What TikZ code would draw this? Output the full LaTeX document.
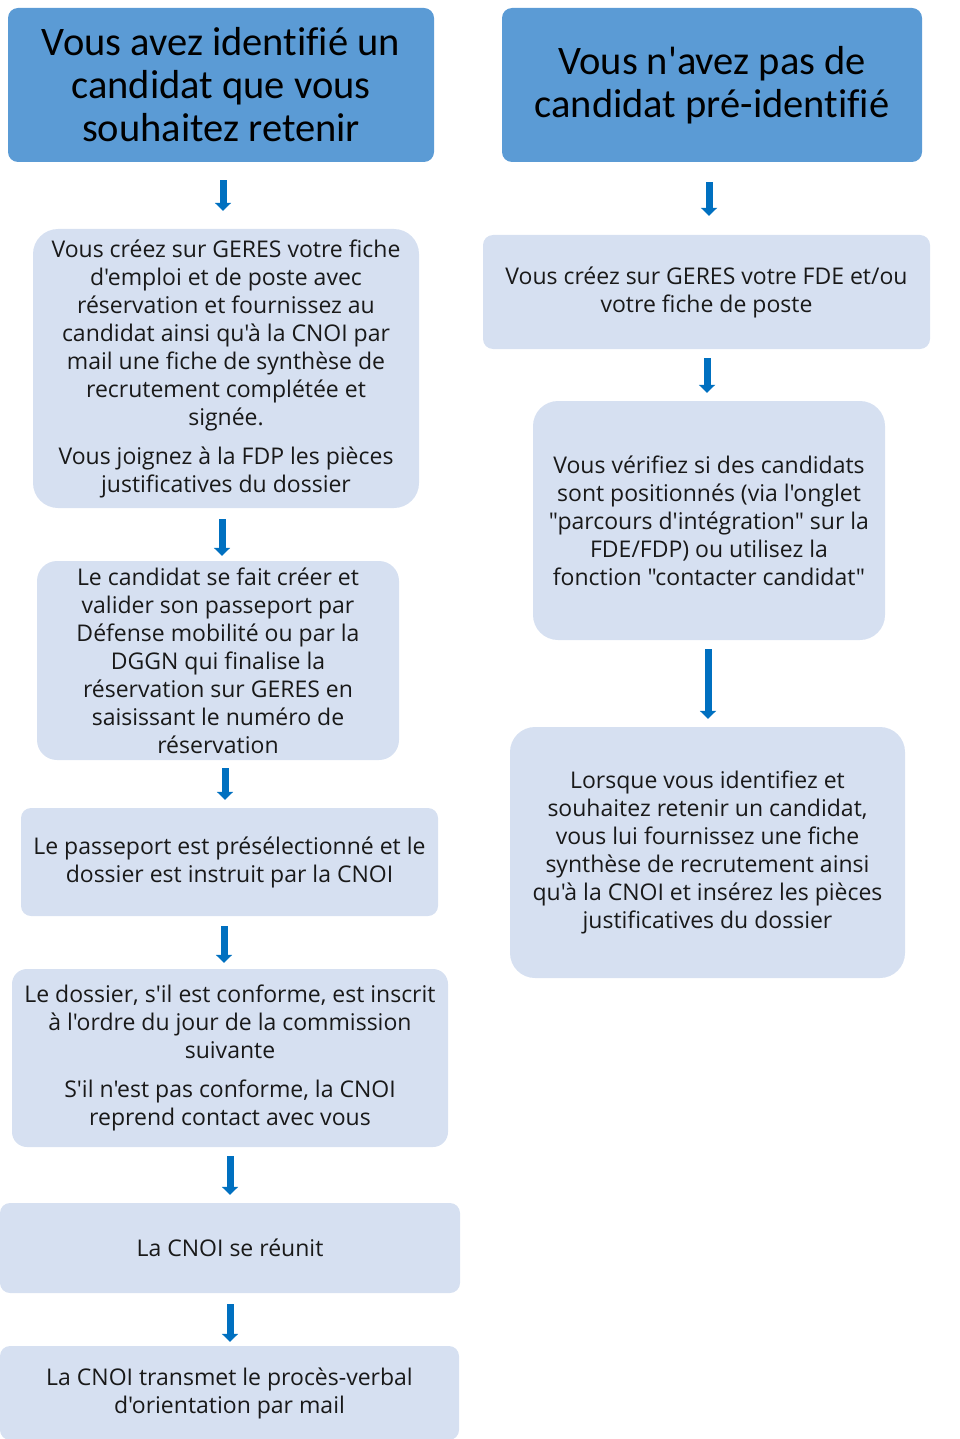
\documentclass[tikz,border=0pt]{standalone}
\usepackage{fontspec}
\newfontfamily\bodyfont{Open Sans}[Ligatures=NoCommon]
\newfontfamily\headfont{Carlito}[Ligatures=NoCommon]
\usetikzlibrary{arrows.meta}
\definecolor{headblue}{HTML}{5B9BD5}
\definecolor{lightbox}{HTML}{D6E0F1}
\definecolor{arrowblue}{HTML}{0070C0}
\newcommand\apo{\symbol{39}}
\newcommand\dqt{\symbol{34}}
\begin{document}
\begin{tikzpicture}[x=1pt,y=-1pt,
  head/.style={fill=headblue, draw=none, rounded corners=10pt, inner sep=0pt, align=center,
    font=\headfont\fontsize{40.5}{43}\selectfont, text=black},
  lbox/.style={fill=lightbox, draw=none, inner sep=0pt, align=center,
    font=\bodyfont\fontsize{23}{28}\selectfont, text=black!90},
  arr/.style={draw=arrowblue, line width=7pt, -{Triangle[width=16pt,length=8pt]}}]
\useasboundingbox (0,0) rectangle (960,1439);
% headers
\node[head, minimum width=426pt, minimum height=154pt] (h1) at (221,85) {Vous avez identifié un\\candidat que vous\\souhaitez retenir};
\node[head, minimum width=420pt, minimum height=154pt] (h2) at (712,85) {Vous n\apo avez pas de\\candidat pré-identifié};
% left column
\node[lbox, rounded corners=25pt, minimum width=386pt, minimum height=279pt] (l1) at (226,368.5)
 {Vous créez sur GERES votre fiche\\d\apo emploi et de poste avec\\réservation et fournissez au\\candidat ainsi qu\apo à la CNOI par\\mail une fiche de synthèse de\\recrutement complétée et\\signée.\\[11pt]Vous joignez à la FDP les pièces\\justificatives du dossier};
\node[lbox, rounded corners=20pt, minimum width=362pt, minimum height=199pt] (l2) at (218,660.5)
 {Le candidat se fait créer et\\valider son passeport par\\Défense mobilité ou par la\\DGGN qui finalise la\\réservation sur GERES en\\saisissant le numéro de\\réservation};
\node[lbox, rounded corners=10pt, minimum width=417pt, minimum height=108pt] (l3) at (229.5,862)
 {Le passeport est présélectionné et le\\dossier est instruit par la CNOI};
\node[lbox, rounded corners=15pt, minimum width=436pt, minimum height=178pt] (l4) at (230,1058)
 {Le dossier, s\apo il est conforme, est inscrit\\à l\apo ordre du jour de la commission\\suivante\\[11pt]S\apo il n\apo est pas conforme, la CNOI\\reprend contact avec vous};
\node[lbox, rounded corners=10pt, minimum width=460pt, minimum height=90pt] (l5) at (230,1248)
 {La CNOI se réunit};
\node[lbox, rounded corners=10pt, minimum width=459pt, minimum height=94pt] (l6) at (229.5,1393)
 {La CNOI transmet le procès-verbal\\d\apo orientation par mail};
% right column
\node[lbox, rounded corners=10pt, minimum width=447pt, minimum height=114pt] (r1) at (706.5,292)
 {Vous créez sur GERES votre FDE et/ou\\votre fiche de poste};
\node[lbox, rounded corners=25pt, minimum width=352pt, minimum height=239pt] (r2) at (709,520.5)
 {Vous vérifiez si des candidats\\sont positionnés (via l\apo onglet\\\dqt parcours d\apo intégration\dqt{} sur la\\FDE/FDP) ou utilisez la\\fonction \dqt contacter candidat\dqt};
\node[lbox, rounded corners=25pt, minimum width=395pt, minimum height=251pt] (r3) at (707.5,852.5)
 {Lorsque vous identifiez et\\souhaitez retenir un candidat,\\vous lui fournissez une fiche\\synthèse de recrutement ainsi\\qu\apo à la CNOI et insérez les pièces\\justificatives du dossier};
% arrows
\draw[arr, shorten <=18pt, shorten >=18pt] ([xshift=2pt]h1.south) -- ([xshift=2pt]h1.south |- l1.north);
\draw[arr, shorten <=11pt, shorten >=5pt] ([xshift=-4pt]l1.south) -- ([xshift=-4pt]l1.south |- l2.north);
\draw[arr, shorten <=8pt, shorten >=8pt] ([xshift=7pt]l2.south) -- ([xshift=7pt]l2.south |- l3.north);
\draw[arr, shorten <=10pt, shorten >=6pt] ([xshift=-5.5pt]l3.south) -- ([xshift=-5.5pt]l3.south |- l4.north);
\draw[arr, shorten <=9pt, shorten >=8pt] (l4.south) -- (l4.south |- l5.north);
\draw[arr, shorten <=11pt, shorten >=4pt] (l5.south) -- (l5.south |- l6.north);
\draw[arr, shorten <=20pt, shorten >=19pt] ([xshift=-3pt]h2.south) -- ([xshift=-3pt]h2.south |- r1.north);
\draw[arr, shorten <=9pt, shorten >=8pt] ([xshift=0.5pt]r1.south) -- ([xshift=0.5pt]r1.south |- r2.north);
\draw[arr, shorten <=9pt, shorten >=8pt] ([xshift=-1pt]r2.south) -- ([xshift=-1pt]r2.south |- r3.north);
\end{tikzpicture}
\end{document}
